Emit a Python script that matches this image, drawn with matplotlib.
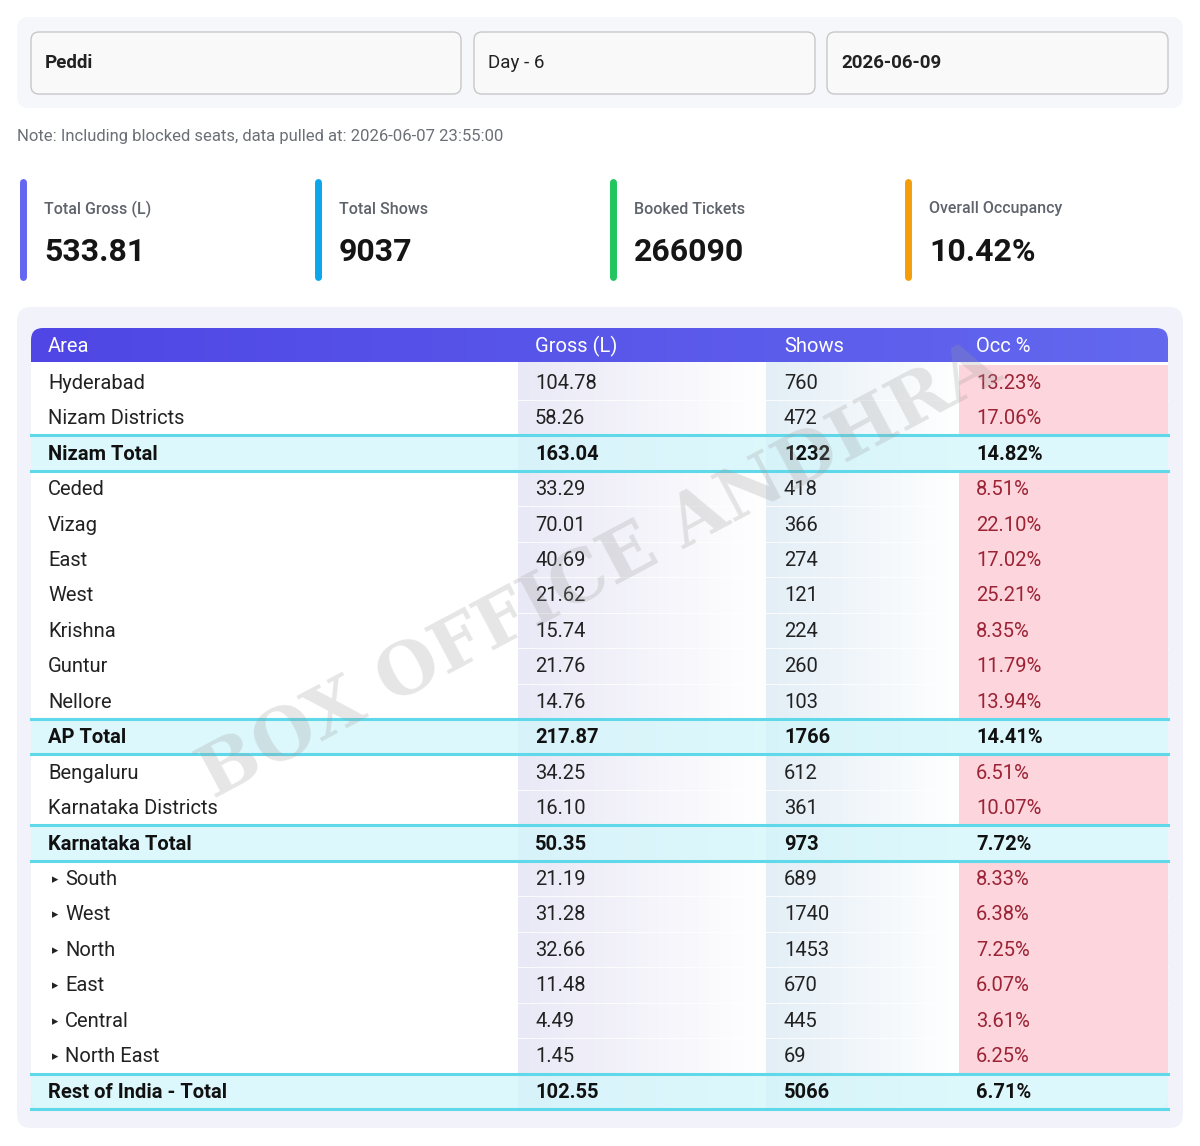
import numpy as np
import matplotlib.pyplot as plt
from matplotlib.patches import FancyBboxPatch, Rectangle
from matplotlib.colors import LinearSegmentedColormap

plt.rcParams['font.family'] = ['Roboto', 'DejaVu Sans']

# data
filters = ["Peddi", "Day - 6", "2026-06-09"]
note = "Note: Including blocked seats, data pulled at: 2026-06-07 23:55:00"
kpi_labels = ["Total Gross (L)", "Total Shows", "Booked Tickets", "Overall Occupancy"]
kpi_values = ["533.81", "9037", "266090", "10.42%"]
kpi_colors = ["#6366f1", "#0ea5e9", "#22c55e", "#f59e0b"]

columns = ["Area", "Gross (L)", "Shows", "Occ %"]
areas = ["Hyderabad", "Nizam Districts", "Nizam Total", "Ceded", "Vizag", "East", "West",
         "Krishna", "Guntur", "Nellore", "AP Total", "Bengaluru", "Karnataka Districts",
         "Karnataka Total", "South", "West", "North", "East", "Central",
         "North East", "Rest of India - Total"]
sub_rows = [14, 15, 16, 17, 18, 19]
gross = [104.78, 58.26, 163.04, 33.29, 70.01, 40.69, 21.62, 15.74, 21.76, 14.76, 217.87,
         34.25, 16.10, 50.35, 21.19, 31.28, 32.66, 11.48, 4.49, 1.45, 102.55]
shows = [760, 472, 1232, 418, 366, 274, 121, 224, 260, 103, 1766, 612, 361, 973,
         689, 1740, 1453, 670, 445, 69, 5066]
occ = [13.23, 17.06, 14.82, 8.51, 22.10, 17.02, 25.21, 8.35, 11.79, 13.94, 14.41,
       6.51, 10.07, 7.72, 8.33, 6.38, 7.25, 6.07, 3.61, 6.25, 6.71]
is_total = [a.endswith("Total") for a in areas]

fig = plt.figure(figsize=(12, 11.46), dpi=100)
ax = fig.add_axes([0, 0, 1, 1])
ax.set_xlim(0, 1200)
ax.set_ylim(1146, 0)
ax.axis("off")

def rbox(x0, y0, x1, y1, r, fc, ec="none", lw=0, z=1):
    p = FancyBboxPatch((x0 + r, y0 + r), x1 - x0 - 2 * r, y1 - y0 - 2 * r,
                       boxstyle=f"round,pad={r}", fc=fc, ec=ec, lw=lw, zorder=z)
    ax.add_patch(p)
    return p

# filter bar
rbox(17, 17, 1183, 108, 12, "#f6f7fa")
for (x0, x1), t in zip([(31, 461), (474, 815), (827, 1168)], filters):
    rbox(x0, 32, x1, 94, 8, "#f9f9f9", "#c8c8c8", 1, 2)
    ax.text(x0 + 14, 63, t, fontsize=13.5, fontweight="bold" if t != "Day - 6" else "normal",
            va="center", color="#222", zorder=3)

ax.text(17, 136, note, fontsize=12, color="#6b6f76", va="center")

# kpi cards
for i, (lab, val, c) in enumerate(zip(kpi_labels, kpi_values, kpi_colors)):
    x = 17 + i * 295
    ax.plot([x + 6, x + 6], [182, 277], color=c, lw=5, solid_capstyle="round")
    ax.text(x + 27, 209, lab, fontsize=11.5, color="#5f636b", va="center", fontweight="medium")
    ax.text(x + 27, 252, val, fontsize=23, color="#151515", va="center", fontweight="bold")

# table container
rbox(17, 307, 1183, 1128, 14, "#f1f2fa")
tx0, tx1 = 31, 1168
row_h = 35.45
body_top = 364.5
body_bot = body_top + row_h * len(areas)
table_clip = rbox(tx0, 328, tx1, body_bot, 12, "white", z=1)

# header gradient
hg = np.linspace(0, 1, 256)[None, :]
hcm = LinearSegmentedColormap.from_list("h", ["#4f46e5", "#6368ef"])
im = ax.imshow(hg, cmap=hcm, extent=(tx0, tx1, 362, 328), aspect="auto", zorder=2)
im.set_clip_path(table_clip)
col_x = [48, 535, 784, 976]
for cx, cn in zip(col_x, columns):
    ax.text(cx, 346, cn, fontsize=14.5, color="white", va="center", zorder=3)

# column backgrounds
gcm = LinearSegmentedColormap.from_list("g", ["#e9e8f6", "#ffffff"])
scm = LinearSegmentedColormap.from_list("s", ["#e3eef6", "#ffffff"])
ax.imshow(hg, cmap=gcm, extent=(518, 766, body_bot, body_top - 2), aspect="auto", zorder=2)
ax.imshow(hg, cmap=scm, extent=(766, 959, body_bot, body_top - 2), aspect="auto", zorder=2)

for i, a in enumerate(areas):
    y0 = body_top + i * row_h
    yc = y0 + row_h / 2 + 1
    tot = is_total[i]
    if tot:
        ax.add_patch(Rectangle((tx0, y0), tx1 - tx0, row_h, fc="#d2f6fb", alpha=0.75, ec="none", zorder=3))
        for yy in (y0, y0 + row_h):
            ax.plot([tx0, tx1], [yy, yy], color="#5fd9ea", lw=2.2, zorder=4)
    else:
        ax.add_patch(Rectangle((959, y0), tx1 - 959, row_h, fc="#fdd5dc", ec="none", zorder=3))
        ax.plot([tx0, tx1], [y0 + row_h, y0 + row_h], color="white", lw=0.8, alpha=0.8, zorder=3)
    w = "bold" if tot else "normal"
    tc = "#111" if tot else "#222"
    if i in sub_rows:
        ax.text(52, yc, "▸", fontsize=9, color=tc, va="center", zorder=5, family="DejaVu Sans")
        ax.text(65, yc, a, fontsize=14.5, color=tc, va="center", zorder=5)
    else:
        ax.text(48, yc, a, fontsize=14.5, fontweight=w, color=tc, va="center", zorder=5)
    ax.text(535, yc, f"{gross[i]:.2f}", fontsize=14.5, fontweight=w, color=tc, va="center", zorder=5)
    ax.text(784, yc, f"{shows[i]}", fontsize=14.5, fontweight=w, color=tc, va="center", zorder=5)
    ax.text(976, yc, f"{occ[i]:.2f}%", fontsize=14.5, fontweight=w,
            color=tc if tot else "#9b2335", va="center", zorder=5)

# watermark
ax.text(600, 572, "BOX OFFICE ANDHRA", fontsize=51, family="DejaVu Serif", fontweight="bold",
        color="#9a9a9a", alpha=0.25, rotation=28, ha="center", va="center", zorder=6)

fig.savefig("out.png", dpi=100)
